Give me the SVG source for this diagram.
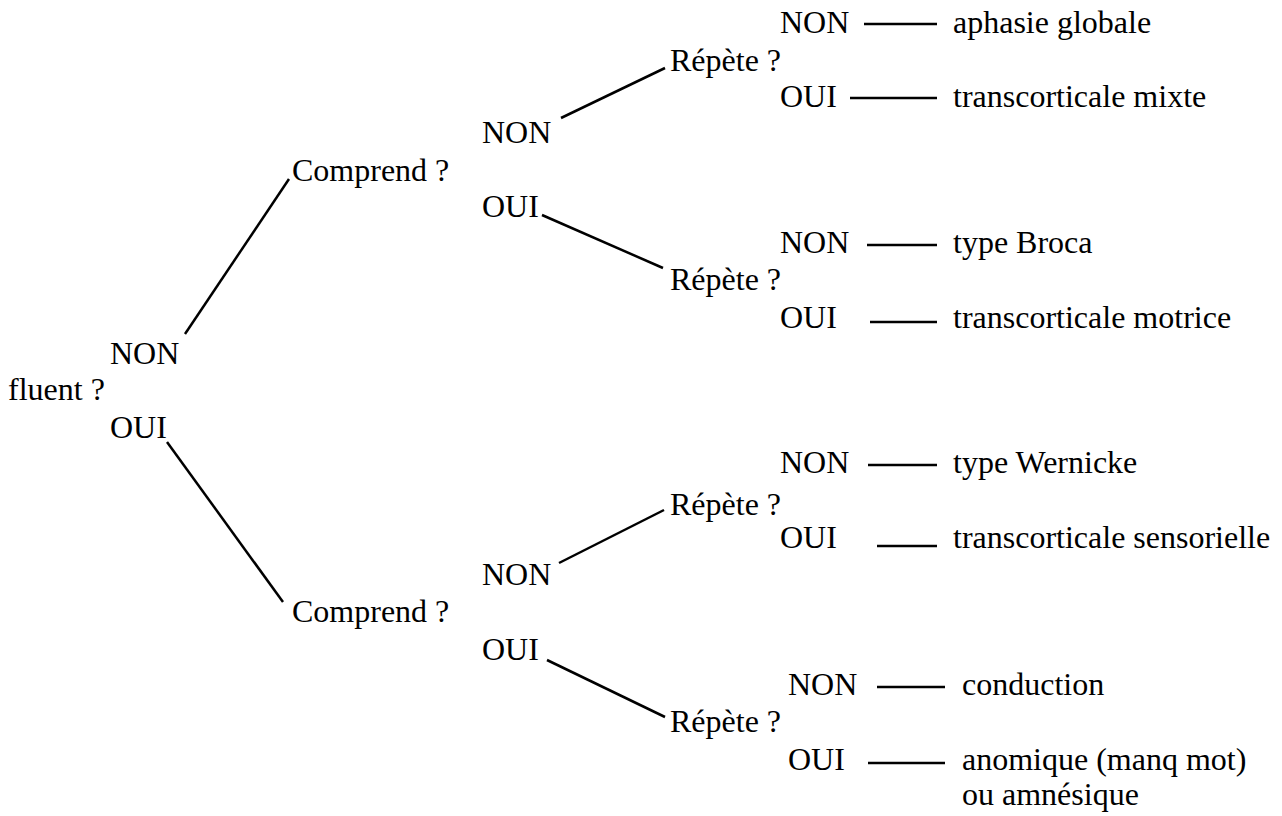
<svg xmlns="http://www.w3.org/2000/svg" width="1282" height="816" viewBox="0 0 1282 816">
  <style>
    text { font-family: "Liberation Serif", "Times New Roman", serif; font-size: 32px; fill: #000; }
    .edge { stroke: #000; stroke-width: 2.5; fill: none; }
  </style>
  <rect width="1282" height="816" fill="#fff"/>

  <!-- connectors -->
  <g id="connectors">
    <line class="edge" x1="185" y1="334" x2="289" y2="179"/>
    <line class="edge" x1="167" y1="442" x2="283" y2="602"/>
    <line class="edge" x1="561" y1="118" x2="665" y2="68"/>
    <line class="edge" x1="542" y1="215" x2="663" y2="268"/>
    <line class="edge" x1="559" y1="563" x2="664" y2="510"/>
    <line class="edge" x1="547" y1="660" x2="665" y2="717"/>
    <line class="edge" x1="864" y1="24" x2="937" y2="24"/>
    <line class="edge" x1="850" y1="98" x2="937" y2="98"/>
    <line class="edge" x1="867" y1="245" x2="937" y2="245"/>
    <line class="edge" x1="870" y1="322" x2="937" y2="322"/>
    <line class="edge" x1="868" y1="465" x2="937" y2="465"/>
    <line class="edge" x1="877" y1="546" x2="937" y2="546"/>
    <line class="edge" x1="877" y1="687" x2="945" y2="687"/>
    <line class="edge" x1="868" y1="763" x2="945" y2="763"/>
  </g>

  <!-- root question -->
  <g id="fluent"><text x="8" y="400">fluent ?</text></g>
  <g id="fluent-non"><text x="110" y="364">NON</text></g>
  <g id="fluent-oui"><text x="110" y="438">OUI</text></g>

  <!-- comprehension questions -->
  <g id="comprend-1"><text x="292" y="181">Comprend ?</text></g>
  <g id="comprend-1-non"><text x="482" y="143">NON</text></g>
  <g id="comprend-1-oui"><text x="482" y="217">OUI</text></g>
  <g id="comprend-2"><text x="292" y="622">Comprend ?</text></g>
  <g id="comprend-2-non"><text x="482" y="585">NON</text></g>
  <g id="comprend-2-oui"><text x="482" y="660">OUI</text></g>

  <!-- repetition questions -->
  <g id="repete-1"><text x="670" y="71">Répète ?</text></g>
  <g id="repete-2"><text x="670" y="290">Répète ?</text></g>
  <g id="repete-3"><text x="670" y="515">Répète ?</text></g>
  <g id="repete-4"><text x="670" y="732">Répète ?</text></g>

  <!-- answers and outcomes -->
  <g id="r1-non"><text x="780" y="33">NON</text></g>
  <g id="global"><text x="953" y="33">aphasie globale</text></g>
  <g id="r1-oui"><text x="780" y="107">OUI</text></g>
  <g id="mixte"><text x="953" y="107">transcorticale mixte</text></g>

  <g id="r2-non"><text x="780" y="253">NON</text></g>
  <g id="broca"><text x="953" y="253">type Broca</text></g>
  <g id="r2-oui"><text x="780" y="328">OUI</text></g>
  <g id="motrice"><text x="953" y="328">transcorticale motrice</text></g>

  <g id="r3-non"><text x="780" y="473">NON</text></g>
  <g id="wernicke"><text x="953" y="473">type Wernicke</text></g>
  <g id="r3-oui"><text x="780" y="548">OUI</text></g>
  <g id="sensorielle"><text x="953" y="548">transcorticale sensorielle</text></g>

  <g id="r4-non"><text x="788" y="695">NON</text></g>
  <g id="conduction"><text x="962" y="695">conduction</text></g>
  <g id="r4-oui"><text x="788" y="770">OUI</text></g>
  <g id="anomique">
    <text x="962" y="770">anomique (manq mot)</text>
    <text x="962" y="805">ou amnésique</text>
  </g>
</svg>
